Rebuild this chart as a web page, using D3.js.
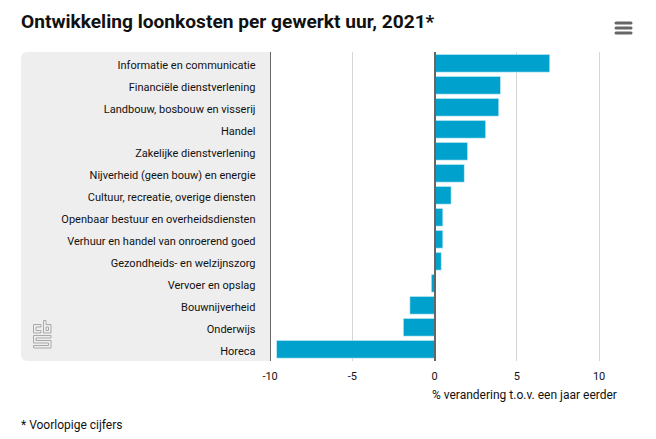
<!DOCTYPE html>
<html>
<head>
<meta charset="utf-8">
<script src="https://cdn.jsdelivr.net/npm/d3@7"></script>
<style>
  html, body { margin: 0; padding: 0; background: #fff; }
  text { font-family: Roboto, sans-serif; fill: #111; }
</style>
</head>
<body>
<div id="chart"></div>
<script>
var categories = [
    "Informatie en communicatie",
    "Financiële dienstverlening",
    "Landbouw, bosbouw en visserij",
    "Handel",
    "Zakelijke dienstverlening",
    "Nijverheid (geen bouw) en energie",
    "Cultuur, recreatie, overige diensten ",
    "Openbaar bestuur en overheidsdiensten",
    "Verhuur en handel van onroerend goed",
    "Gezondheids- en welzijnszorg",
    "Vervoer en opslag",
    "Bouwnijverheid",
    "Onderwijs",
    "Horeca"
];
var values = [7.0, 4.0, 3.9, 3.1, 2.0, 1.8, 1.0, 0.5, 0.5, 0.4, -0.2, -1.5, -1.9, -9.6];
var xTicks = [-10, -5, 0, 5, 10];

var titleText = "Ontwikkeling loonkosten per gewerkt uur, 2021*";
var axisTitle = "% verandering t.o.v. een jaar eerder";
var footnote = "* Voorlopige cijfers";

var w = 656,
    h = 439,
    plotTop = 52,
    plotBottom = 361,
    panelLeft = 21;

var x = d3.scaleLinear().domain([-10, 10]).range([270.1, 599.1]);
var y = d3.scaleBand().domain(categories).range([52.3, 360.3]).paddingInner(0.2).paddingOuter(0.1);

var svg = d3.select("#chart").append("svg")
    .attr("width", w)
    .attr("height", h)
    .style("display", "block");

// grey panel behind the category labels
svg.append("rect")
    .attr("x", panelLeft)
    .attr("y", plotTop)
    .attr("width", x(-10) - panelLeft)
    .attr("height", plotBottom - plotTop)
    .attr("rx", 6)
    .attr("fill", "#eeeeee");
svg.append("rect")
    .attr("x", x(-10) - 10)
    .attr("y", plotTop)
    .attr("width", 10)
    .attr("height", plotBottom - plotTop)
    .attr("fill", "#eeeeee");

svg.append("text")
    .attr("x", panelLeft)
    .attr("y", 28)
    .style("font-size", "19.15px")
    .style("font-weight", 700)
    .text(titleText);

// grid lines, the first one is darker
svg.selectAll("line.grid")
    .data(xTicks.filter(function(d) { return d !== 0; }))
    .enter().append("line")
    .attr("class", "grid")
    .attr("x1", function(d) { return x(d); })
    .attr("x2", function(d) { return x(d); })
    .attr("y1", plotTop)
    .attr("y2", plotBottom)
    .attr("stroke", function(d) { return d === -10 ? "#666" : "#d6d6d6"; })
    .attr("stroke-width", 1)
    .attr("shape-rendering", "crispEdges");

svg.selectAll("rect.bar")
    .data(values)
    .enter().append("rect")
    .attr("class", "bar")
    .attr("x", function(d) { return x(Math.min(d, 0)); })
    .attr("y", function(d, i) { return y(categories[i]); })
    .attr("width", function(d) { return Math.abs(x(d) - x(0)); })
    .attr("height", y.bandwidth())
    .attr("fill", "#00a1cd")
    .attr("stroke", "#c5e8f2")
    .attr("stroke-width", 0.6);

// zero line
svg.append("line")
    .attr("x1", x(0))
    .attr("x2", x(0))
    .attr("y1", plotTop)
    .attr("y2", plotBottom)
    .attr("stroke", "#666")
    .attr("stroke-width", 2)
    .attr("shape-rendering", "crispEdges");

svg.selectAll("text.cat")
    .data(categories)
    .enter().append("text")
    .attr("class", "cat")
    .attr("x", 255.5)
    .attr("y", function(d) { return y(d) + y.bandwidth() / 2 + 5.3; })
    .attr("text-anchor", "end")
    .style("font-size", "11px")
    .text(function(d) { return d; });

svg.selectAll("text.tick")
    .data(xTicks)
    .enter().append("text")
    .attr("class", "tick")
    .attr("x", function(d) { return x(d); })
    .attr("y", 380)
    .attr("text-anchor", "middle")
    .style("font-size", "11px")
    .text(function(d) { return d; });

svg.append("text")
    .attr("x", 432)
    .attr("y", 399)
    .style("font-size", "12px")
    .text(axisTitle);

svg.append("text")
    .attr("x", panelLeft)
    .attr("y", 429)
    .style("font-size", "12px")
    .text(footnote);

// hamburger menu
svg.selectAll("line.menu")
    .data([23, 28, 33])
    .enter().append("line")
    .attr("class", "menu")
    .attr("x1", 616)
    .attr("x2", 631)
    .attr("y1", function(d) { return d; })
    .attr("y2", function(d) { return d; })
    .attr("stroke", "#666")
    .attr("stroke-width", 3)
    .attr("stroke-linecap", "round");

// cbs logo
svg.append("g")
    .attr("fill", "none")
    .attr("stroke", "#a9a9a9")
    .attr("stroke-width", 1)
    .selectAll("path")
    .data([
        "M41 324.5 H33.5 V333 H41 V330.5 H36 V327 H41 Z",
        "M43.5 320.5 H46 V324.5 H51 V333 H43.5 Z M46 327 H48.5 V330.5 H46 Z",
        "M33.5 335.5 H51 V338 H36 V340.5 H51 V348 H33.5 V345.5 H48.5 V343 H33.5 Z"
    ])
    .enter().append("path")
    .attr("d", function(d) { return d; });
</script>
</body>
</html>
